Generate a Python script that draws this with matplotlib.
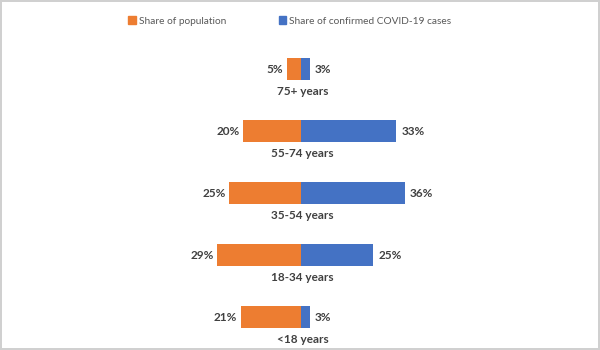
import matplotlib.pyplot as plt
from matplotlib.patches import Patch

groups = ['<18 years', '18-34 years', '35-54 years', '55-74 years', '75+ years']
population = [21, 29, 25, 20, 5]
cases = [3, 25, 36, 33, 3]

orange = '#ED7D31'
blue = '#4472C4'
dark = '#404040'

plt.rcParams['font.family'] = ['Lato', 'DejaVu Sans']

fig = plt.figure(figsize=(6, 3.5), dpi=100)
fig.patch.set_edgecolor('#d0d0d0')
fig.patch.set_linewidth(1.5)
ax = fig.add_axes([0, 0, 1, 1])
ax.set_xlim(-104.5, 103.8)
ax.set_ylim(-0.532, 5.113)
ax.axis('off')

y = range(len(groups))
h = 0.355
ax.barh(y, [-p for p in population], height=h, color=orange)
ax.barh(y, cases, height=h, color=blue)

for i, g in enumerate(groups):
    ax.text(-population[i] - 1.2, i, f'{population[i]}%', ha='right', va='center',
            fontsize=8.5, fontweight='bold', color=dark)
    ax.text(cases[i] + 1.8, i, f'{cases[i]}%', ha='left', va='center',
            fontsize=8.5, fontweight='bold', color=dark)
    ax.text(0.5, i - 0.37, g, ha='center', va='center',
            fontsize=8.5, fontweight='bold', color=dark)

handles = [Patch(color=orange, label='Share of population'),
           Patch(color=blue, label='Share of confirmed COVID-19 cases')]
leg = fig.legend(handles=handles, loc='center', bbox_to_anchor=(0.483, 0.94), ncol=2,
                 frameon=False, fontsize=7.3, handlelength=0.75, handleheight=0.75,
                 handletextpad=0.3, columnspacing=5.2)
for t in leg.get_texts():
    t.set_color('#595959')

fig.savefig('out.png', dpi=100)
